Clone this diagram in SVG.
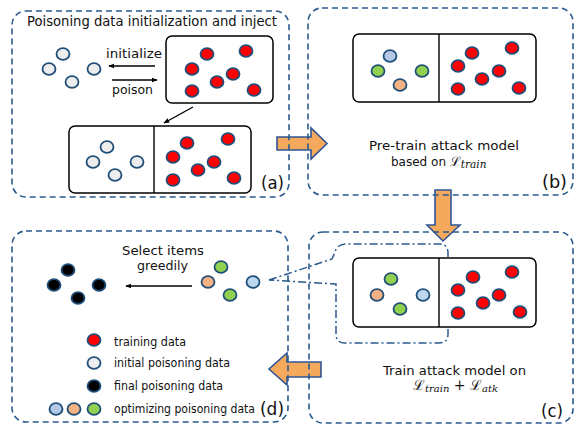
<svg xmlns="http://www.w3.org/2000/svg" width="582" height="431" viewBox="0 0 582 431">
<defs>
<style>
.panel{fill:none;stroke:#2a5a8e;stroke-width:1.6;stroke-dasharray:6 4}
.box{fill:#fff;stroke:#000;stroke-width:1.5}
.div{stroke:#000;stroke-width:1.4}
ellipse{stroke:#1f4e79;stroke-width:1.8}
.red{fill:#ff0000}.ini{fill:#ededed}.blk{fill:#000}.lb{fill:#b4c7e7}.lb2{fill:#bdd7ee}.or{fill:#f4b183}.gr{fill:#92d050}
.t{font-family:"DejaVu Sans",sans-serif;fill:#111}
.m{font-family:"DejaVu Serif",serif;fill:#111}
.sub{font-style:italic}
.arr{stroke:#000;stroke-width:1.4;fill:none;marker-end:url(#ah)}
.big{fill:#f4a95c;stroke:#2f5597;stroke-width:1.6;stroke-linejoin:miter}
.call{fill:none;stroke:#2a5a8e;stroke-width:1.5;stroke-dasharray:8 3 2 3}
</style>
<marker id="ah" viewBox="0 0 10 10" refX="9" refY="5" markerWidth="6" markerHeight="6" orient="auto" markerUnits="userSpaceOnUse"><path d="M0,1 L10,5 L0,9 Z" fill="#000"/></marker>
</defs>
<rect width="582" height="431" fill="#fff"/>

<g id="connectors">
<polygon class="big" points="277,137 311,137 311,128 327,143.5 311,159 311,150 277,150"/>
<polygon class="big" points="435,190 451,190 451,225 460,225 443,241 427,225 435,225"/>
<polygon class="big" points="321,362 287,362 287,353 269,369 287,385 287,377 321,377"/>
<path class="call" d="M269,280 L332,259 L335,252 Q337,244 347,244 L439,244 Q448,244 448,253 L448,334 Q448,343 439,343 L345,343 Q336,343 336,334 L336,284 Z"/>
</g>

<g id="panel-a">
<rect class="panel" x="12" y="11" width="277" height="186" rx="14"/>
<text class="t" x="27" y="26" font-size="14" textLength="250" lengthAdjust="spacingAndGlyphs">Poisoning data initialization and inject</text>
<g>
<ellipse class="ini" cx="63" cy="54" rx="6.5" ry="5.8"/>
<ellipse class="ini" cx="49" cy="69" rx="6.5" ry="5.8"/>
<ellipse class="ini" cx="94" cy="69" rx="6.5" ry="5.8"/>
<ellipse class="ini" cx="72" cy="82" rx="6.5" ry="5.8"/>
</g>
<text class="t" x="106" y="58" font-size="13" textLength="56" lengthAdjust="spacingAndGlyphs">initialize</text>
<line class="arr" x1="155" y1="66" x2="109" y2="66"/>
<line class="arr" x1="112" y1="80" x2="157" y2="80"/>
<text class="t" x="112" y="94" font-size="13" textLength="41" lengthAdjust="spacingAndGlyphs">poison</text>
<rect class="box" x="166" y="36" width="107" height="67" rx="6"/>
<g>
<ellipse class="red" cx="207" cy="54" rx="6.5" ry="5.8"/>
<ellipse class="red" cx="246" cy="51" rx="6.5" ry="5.8"/>
<ellipse class="red" cx="192" cy="69" rx="6.5" ry="5.8"/>
<ellipse class="red" cx="233" cy="74" rx="6.5" ry="5.8"/>
<ellipse class="red" cx="217" cy="82" rx="6.5" ry="5.8"/>
<ellipse class="red" cx="192" cy="91" rx="6.5" ry="5.8"/>
<ellipse class="red" cx="254" cy="90" rx="6.5" ry="5.8"/>
</g>
<line class="arr" x1="193" y1="107" x2="164" y2="123"/>
<rect class="box" x="69" y="126" width="182" height="67" rx="6"/>
<line class="div" x1="154" y1="126" x2="154" y2="193"/>
<g>
<ellipse class="ini" cx="107" cy="147" rx="6.5" ry="5.8"/>
<ellipse class="ini" cx="93" cy="162" rx="6.5" ry="5.8"/>
<ellipse class="ini" cx="137" cy="162" rx="6.5" ry="5.8"/>
<ellipse class="ini" cx="115" cy="175" rx="6.5" ry="5.8"/>
<ellipse class="red" cx="187" cy="143" rx="6.5" ry="5.8"/>
<ellipse class="red" cx="228" cy="139" rx="6.5" ry="5.8"/>
<ellipse class="red" cx="173" cy="157" rx="6.5" ry="5.8"/>
<ellipse class="red" cx="214" cy="162" rx="6.5" ry="5.8"/>
<ellipse class="red" cx="198" cy="170" rx="6.5" ry="5.8"/>
<ellipse class="red" cx="173" cy="180" rx="6.5" ry="5.8"/>
<ellipse class="red" cx="234" cy="178" rx="6.5" ry="5.8"/>
</g>
<text class="t" x="261" y="189" font-size="17" textLength="23" lengthAdjust="spacingAndGlyphs">(a)</text>
</g>

<g id="panel-b">
<rect class="panel" x="308" y="8" width="265" height="187" rx="14"/>
<rect class="box" x="353" y="34" width="183" height="68" rx="6"/>
<line class="div" x1="439" y1="34" x2="439" y2="102"/>
<ellipse class="lb" cx="390" cy="56" rx="6.5" ry="5.8"/>
<ellipse class="gr" cx="378" cy="71" rx="6.5" ry="5.8"/>
<ellipse class="gr" cx="422" cy="71" rx="6.5" ry="5.8"/>
<ellipse class="or" cx="400" cy="85" rx="6.5" ry="5.8"/>
<ellipse class="red" cx="472" cy="53" rx="6.5" ry="5.8"/>
<ellipse class="red" cx="512" cy="48" rx="6.5" ry="5.8"/>
<ellipse class="red" cx="458" cy="66" rx="6.5" ry="5.8"/>
<ellipse class="red" cx="499" cy="71" rx="6.5" ry="5.8"/>
<ellipse class="red" cx="482" cy="79" rx="6.5" ry="5.8"/>
<ellipse class="red" cx="458" cy="89" rx="6.5" ry="5.8"/>
<ellipse class="red" cx="519" cy="88" rx="6.5" ry="5.8"/>
<text class="t" x="369" y="150" font-size="13" textLength="150" lengthAdjust="spacingAndGlyphs">Pre-train attack model</text>
<text class="t" x="391" y="166" font-size="12">based on <tspan class="m" font-size="13">ℒ</tspan><tspan class="m sub" font-size="10.5" dy="2">train</tspan></text>
<text class="t" x="542" y="188" font-size="17" textLength="25" lengthAdjust="spacingAndGlyphs">(b)</text>
</g>

<g id="panel-c">
<rect class="panel" x="309" y="232" width="264" height="191" rx="14"/>
<rect class="box" x="353" y="258" width="183" height="69" rx="6"/>
<line class="div" x1="439" y1="258" x2="439" y2="327"/>
<ellipse class="gr" cx="391" cy="279" rx="6.5" ry="5.8"/>
<ellipse class="or" cx="377" cy="295" rx="6.5" ry="5.8"/>
<ellipse class="lb2" cx="423" cy="295" rx="6.5" ry="5.8"/>
<ellipse class="gr" cx="400" cy="309" rx="6.5" ry="5.8"/>
<ellipse class="red" cx="473" cy="277" rx="6.5" ry="5.8"/>
<ellipse class="red" cx="512" cy="272" rx="6.5" ry="5.8"/>
<ellipse class="red" cx="458" cy="290" rx="6.5" ry="5.8"/>
<ellipse class="red" cx="499" cy="295" rx="6.5" ry="5.8"/>
<ellipse class="red" cx="483" cy="303" rx="6.5" ry="5.8"/>
<ellipse class="red" cx="458" cy="313" rx="6.5" ry="5.8"/>
<ellipse class="red" cx="520" cy="312" rx="6.5" ry="5.8"/>
<text class="t" x="383" y="375" font-size="13" textLength="143" lengthAdjust="spacingAndGlyphs">Train attack model on</text>
<text class="m" x="413" y="390" font-size="14">ℒ<tspan class="sub" font-size="10" dy="2">train</tspan><tspan dy="-2" font-size="14"> + </tspan>ℒ<tspan class="sub" font-size="10" dy="2">atk</tspan></text>
<text class="t" x="541" y="417" font-size="17" textLength="22" lengthAdjust="spacingAndGlyphs">(c)</text>
</g>

<g id="panel-d">
<rect class="panel" x="12" y="231" width="276" height="191" rx="14"/>
<ellipse class="blk" cx="68" cy="270" rx="6.5" ry="5.8"/>
<ellipse class="blk" cx="54" cy="285" rx="6.5" ry="5.8"/>
<ellipse class="blk" cx="99" cy="285" rx="6.5" ry="5.8"/>
<ellipse class="blk" cx="78" cy="298" rx="6.5" ry="5.8"/>
<text class="t" x="122" y="255" font-size="13" textLength="82" lengthAdjust="spacingAndGlyphs">Select items</text>
<text class="t" x="137" y="270" font-size="13" textLength="51" lengthAdjust="spacingAndGlyphs">greedily</text>
<line class="arr" x1="192" y1="286" x2="126" y2="286"/>
<ellipse class="gr" cx="221" cy="267" rx="6.5" ry="5.8"/>
<ellipse class="or" cx="208" cy="282" rx="6.5" ry="5.8"/>
<ellipse class="gr" cx="230" cy="295" rx="6.5" ry="5.8"/>
<ellipse class="lb2" cx="253" cy="282" rx="6.5" ry="5.8"/>
<g id="legend">
<ellipse class="red" cx="94" cy="340" rx="6.5" ry="5.8"/>
<text class="t" x="114" y="346" font-size="11.5" textLength="72" lengthAdjust="spacingAndGlyphs">training data</text>
<ellipse class="ini" cx="94" cy="363" rx="6.5" ry="5.8"/>
<text class="t" x="114" y="367" font-size="11.5" textLength="116" lengthAdjust="spacingAndGlyphs">initial poisoning data</text>
<ellipse class="blk" cx="94" cy="386" rx="6.5" ry="5.8"/>
<text class="t" x="114" y="390" font-size="11.5" textLength="109" lengthAdjust="spacingAndGlyphs">final poisoning data</text>
<ellipse class="lb" cx="56" cy="409" rx="6.5" ry="5.8"/>
<ellipse class="or" cx="74" cy="409" rx="6.5" ry="5.8"/>
<ellipse class="gr" cx="94" cy="409" rx="6.5" ry="5.8"/>
<text class="t" x="114" y="413" font-size="11.5" textLength="141" lengthAdjust="spacingAndGlyphs">optimizing poisoning data</text>
</g>
<text class="t" x="260" y="415" font-size="17" textLength="24" lengthAdjust="spacingAndGlyphs">(d)</text>
</g>
</svg>
